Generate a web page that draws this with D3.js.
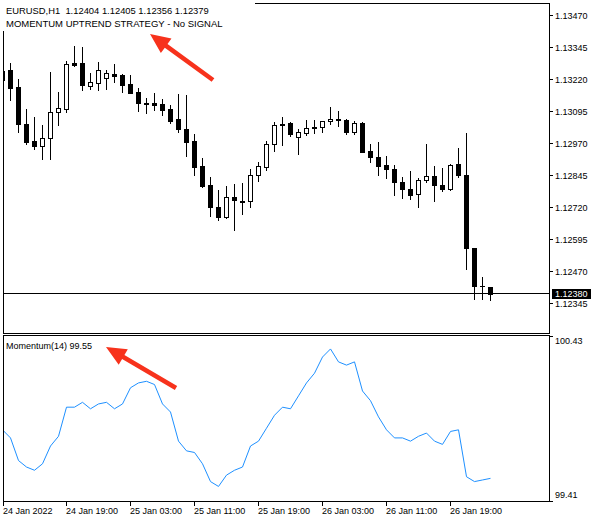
<!DOCTYPE html>
<html><head><meta charset="utf-8">
<script src="https://cdn.jsdelivr.net/npm/d3@7"></script>
<style>body{margin:0;background:#fff} svg{display:block}</style>
</head><body>
<script>
// ---- data ----
const open = [1.13216,1.13255,1.13188,1.13044,1.12978,1.12959,1.12988,1.13092,1.13104,1.13283,
1.13283,1.13194,1.13203,1.13225,1.13238,1.13236,1.13200,1.13169,1.13125,1.13126,
1.13122,1.13103,1.13064,1.13025,1.12978,1.12880,1.12806,1.12720,1.12678,1.12759,
1.12743,1.12741,1.12842,1.12877,1.12965,1.13044,1.13048,1.12991,1.13010,1.13031,
1.13031,1.13054,1.13062,1.13061,1.13014,1.13048,1.12939,1.12915,1.12884,1.12868,
1.12818,1.12790,1.12770,1.12823,1.12841,1.12806,1.12788,1.12888,1.12845,1.12560,
1.12410,1.12404];
const high = [1.13259,1.13283,1.13220,1.13103,1.13072,1.13040,1.13247,1.13170,1.13290,1.13349,
1.13345,1.13243,1.13286,1.13255,1.13279,1.13241,1.13236,1.13186,1.13145,1.13165,
1.13142,1.13116,1.13161,1.13158,1.13005,1.12910,1.12836,1.12786,1.12802,1.12810,
1.12814,1.12868,1.12893,1.12978,1.13052,1.13072,1.13050,1.13025,1.13060,1.13060,
1.13056,1.13111,1.13095,1.13062,1.13057,1.13051,1.12966,1.12975,1.12919,1.12884,
1.12837,1.12861,1.12833,1.12966,1.12880,1.12872,1.12888,1.12948,1.13009,1.12560,
1.12443,1.12405];
const low = [1.13208,1.13138,1.13014,1.12966,1.12947,1.12905,1.12908,1.13040,1.13092,1.13271,
1.13177,1.13182,1.13178,1.13182,1.13209,1.13170,1.13163,1.13096,1.13088,1.13098,
1.13079,1.13049,1.13014,1.12917,1.12842,1.12798,1.12685,1.12667,1.12674,1.12630,
1.12693,1.12717,1.12819,1.12862,1.12939,1.12962,1.12995,1.12928,1.12999,1.13010,
1.13014,1.13044,1.13034,1.13006,1.13006,1.12932,1.12893,1.12842,1.12834,1.12764,
1.12752,1.12751,1.12717,1.12816,1.12741,1.12780,1.12784,1.12838,1.12475,1.12358,
1.12358,1.12356];
const close = [1.13251,1.13185,1.13042,1.12975,1.12959,1.12990,1.13090,1.13107,1.13279,1.13274,
1.13198,1.13207,1.13255,1.13243,1.13233,1.13198,1.13165,1.13127,1.13122,1.13118,
1.13099,1.13057,1.13024,1.12975,1.12877,1.12802,1.12717,1.12678,1.12759,1.12745,
1.12737,1.12845,1.12880,1.12966,1.13040,1.13038,1.13006,1.13012,1.13027,1.13027,
1.13055,1.13063,1.13059,1.13013,1.13048,1.12935,1.12913,1.12881,1.12866,1.12815,
1.12788,1.12764,1.12825,1.12840,1.12803,1.12788,1.12884,1.12842,1.12557,1.12408,
1.12408,1.12379];
const momentum = [99.85,99.80,99.66,99.62,99.60,99.64,99.75,99.81,99.99,99.99,
100.02,99.98,100.01,100.02,99.98,100.01,100.11,100.14,100.15,100.13,
100.01,99.96,99.78,99.72,99.71,99.64,99.53,99.50,99.57,99.60,
99.62,99.75,99.78,99.86,99.94,99.99,99.98,100.06,100.14,100.20,
100.30,100.35,100.27,100.25,100.27,100.09,100.03,99.93,99.85,99.80,
99.80,99.78,99.81,99.83,99.78,99.76,99.84,99.85,99.56,99.53,
99.54,99.55];
const priceTicks = [1.13470,1.13345,1.13220,1.13095,1.12970,1.12845,1.12720,1.12595,1.12470,1.12345];
const momTicks = [100.43, 99.41];
const timeTickIdx = [0,8,16,24,32,40,48,56];
const timeTickLabels = ["24 Jan 2022","24 Jan 19:00","25 Jan 03:00","25 Jan 11:00","25 Jan 19:00","26 Jan 03:00","26 Jan 11:00","26 Jan 19:00"];
const bidPrice = 1.12380;
const headerText = "EURUSD,H1  1.12404 1.12405 1.12356 1.12379";
const strategyText = "MOMENTUM UPTREND STRATEGY - No SIGNAL";
const momLabel = "Momentum(14) 99.55";

// ---- drawing ----
const W = 604, H = 521;
const FONT = '"Liberation Sans", Arial, sans-serif';
const svg = d3.select('body').append('svg').attr('width', W).attr('height', H)
  .style('font-family', FONT);
svg.append('rect').attr('width', W).attr('height', H).attr('fill', '#fff');

const x = d3.scaleLinear().domain([0, 61]).range([2, 490]);
const y = d3.scaleLinear().domain([1.12345, 1.13470]).range([302.5, 15]);
const ym = d3.scaleLinear().domain([99.41, 100.43]).range([501, 336]);

const defs = svg.append('defs');
defs.append('clipPath').attr('id', 'cMain').append('rect').attr('x', 4).attr('y', 4).attr('width', 545).attr('height', 329);
defs.append('clipPath').attr('id', 'cSub').append('rect').attr('x', 4).attr('y', 336).attr('width', 545).attr('height', 165);

// frames
svg.append('rect').attr('x', 3.5).attr('y', 3.5).attr('width', 546).attr('height', 330)
  .attr('fill', 'none').attr('stroke', '#000').attr('shape-rendering', 'crispEdges');
svg.append('rect').attr('x', 3.5).attr('y', 335.5).attr('width', 546).attr('height', 166)
  .attr('fill', 'none').attr('stroke', '#000').attr('shape-rendering', 'crispEdges');

// candles
const gC = svg.append('g').attr('clip-path', 'url(#cMain)').attr('shape-rendering', 'crispEdges');
const idx = d3.range(open.length);
idx.forEach(i => {
  const cx = Math.round(x(i));
  const yH = Math.round(y(high[i])), yL = Math.round(y(low[i]));
  gC.append('rect').attr('x', cx).attr('y', yH).attr('width', 1).attr('height', Math.max(1, yL - yH + 1)).attr('fill', '#000');
  const top = Math.round(y(Math.max(open[i], close[i])));
  const bot = Math.round(y(Math.min(open[i], close[i])));
  if (close[i] < open[i] || bot - top < 2) {
    gC.append('rect').attr('x', cx - 2).attr('y', top).attr('width', 5).attr('height', Math.max(1, bot - top + 1)).attr('fill', '#000');
  } else {
    gC.append('rect').attr('x', cx - 1.5).attr('y', top + 0.5).attr('width', 4).attr('height', bot - top)
      .attr('fill', '#fff').attr('stroke', '#000');
  }
});

// label background box (covers frame corner like the terminal does)
svg.append('rect').attr('x', 0).attr('y', 0).attr('width', 255).attr('height', 31).attr('fill', '#fff');

// bid line
const bidY = Math.floor(y(bidPrice));
svg.append('line').attr('x1', 3).attr('x2', 549).attr('y1', bidY + 0.5).attr('y2', bidY + 0.5)
  .attr('stroke', '#000').attr('shape-rendering', 'crispEdges');

// price axis
const gP = svg.append('g');
priceTicks.forEach(v => {
  const ty = Math.round(y(v));
  gP.append('line').attr('x1', 549).attr('x2', 553).attr('y1', ty + 0.5).attr('y2', ty + 0.5)
    .attr('stroke', '#000').attr('shape-rendering', 'crispEdges');
  gP.append('text').attr('x', 555).attr('y', ty + 3.5).attr('font-size', 9).attr('fill', '#000').text(v.toFixed(5));
});
svg.append('rect').attr('x', 552).attr('y', bidY - 4).attr('width', 39).attr('height', 10).attr('fill', '#000');
svg.append('text').attr('x', 555).attr('y', bidY + 4).attr('font-size', 9).attr('fill', '#fff').text(bidPrice.toFixed(5));

// momentum
const gM = svg.append('g').attr('clip-path', 'url(#cSub)');
gM.append('path').datum(momentum)
  .attr('d', d3.line().x((d, i) => Math.round(x(i)) + 0.5).y(d => ym(d)))
  .attr('fill', 'none').attr('stroke', '#1e90ff').attr('stroke-width', 1);

momTicks.forEach((v, k) => {
  const ty = Math.round(ym(v));
  svg.append('line').attr('x1', 549).attr('x2', 553).attr('y1', ty + 0.5).attr('y2', ty + 0.5)
    .attr('stroke', '#000').attr('shape-rendering', 'crispEdges');
  svg.append('text').attr('x', 555).attr('y', k === 0 ? ty + 8 : ty - 3).attr('font-size', 9).text(v.toFixed(2));
});

// time axis
timeTickIdx.forEach((ti, k) => {
  const tx = k === 0 ? 3 : Math.round(x(ti));
  svg.append('line').attr('x1', tx + 0.5).attr('x2', tx + 0.5).attr('y1', 501).attr('y2', 506)
    .attr('stroke', '#000').attr('shape-rendering', 'crispEdges');
  svg.append('text').attr('x', tx).attr('y', 514).attr('font-size', 9).text(timeTickLabels[k]);
});

// labels
svg.append('text').attr('x', 6).attr('y', 13.5).attr('font-size', 9.4).text(headerText).attr('xml:space', 'preserve').style('white-space', 'pre');
svg.append('text').attr('x', 6).attr('y', 27).attr('font-size', 9.5).text(strategyText);
svg.append('text').attr('x', 6).attr('y', 348.5).attr('font-size', 9).text(momLabel);

// arrows
function arrow(tail, tip) {
  const dx = tip[0] - tail[0], dy = tip[1] - tail[1];
  const L = Math.hypot(dx, dy), ux = dx / L, uy = dy / L, nx = -uy, ny = ux;
  const hl = 20, hw = 9, sw = 2.3;
  const bx = tip[0] - ux * hl, by = tip[1] - uy * hl;
  const pts = [
    [tail[0] + nx * sw, tail[1] + ny * sw], [bx + nx * sw, by + ny * sw], [bx + nx * hw, by + ny * hw],
    tip, [bx - nx * hw, by - ny * hw], [bx - nx * sw, by - ny * sw], [tail[0] - nx * sw, tail[1] - ny * sw]
  ];
  svg.append('polygon').attr('points', pts.map(p => p.join(',')).join(' ')).attr('fill', '#f7321c');
}
arrow([213, 80], [150, 34]);
arrow([176, 388], [106, 347]);
</script>
</body></html>
